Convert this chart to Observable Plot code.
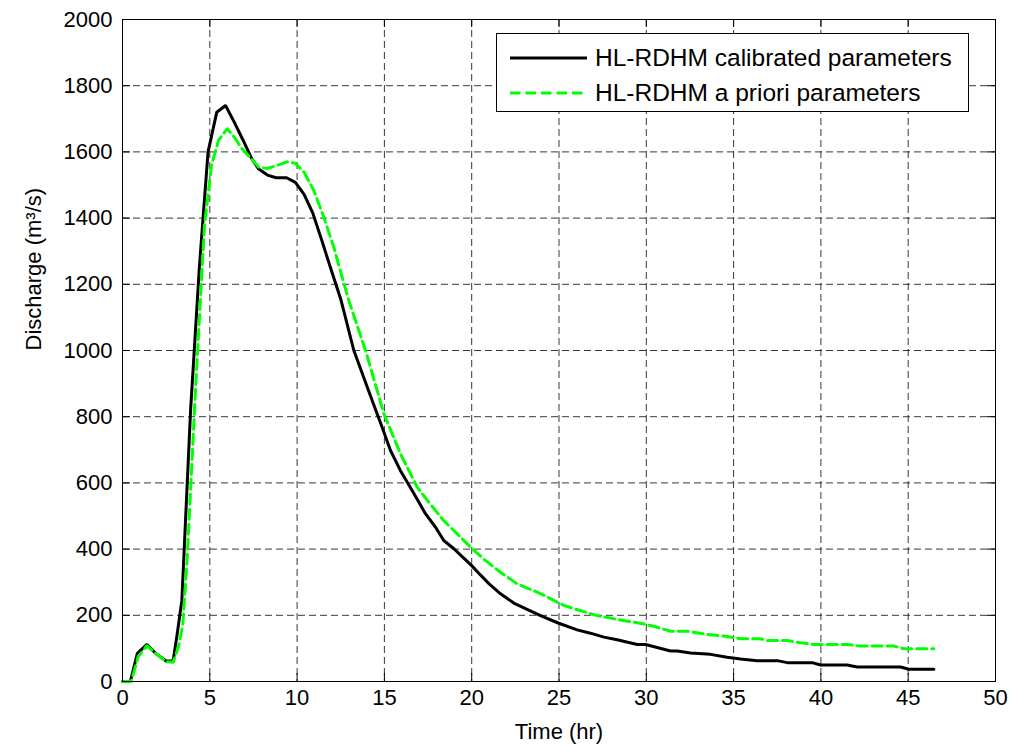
<!DOCTYPE html>
<html>
<head>
<meta charset="utf-8">
<script src="https://cdn.jsdelivr.net/npm/d3@7"></script>
<script src="https://cdn.jsdelivr.net/npm/@observablehq/plot@0.6"></script>
<style>
  html, body { margin: 0; padding: 0; background: #fff; }
  #wrap { position: relative; width: 1014px; height: 754px; font-family: "Liberation Sans", Arial, sans-serif; }
  #legend { position: absolute; left: 496px; top: 33px; width: 473px; height: 79px; border: 1px solid #000; background: #fff; box-sizing: border-box; }
  #legend .row { position: absolute; left: 0; height: 30px; display: flex; align-items: center; font-size: 24.5px; color: #000; white-space: nowrap; }
  #legend svg { margin-left: 13px; margin-right: 8px; }
</style>
</head>
<body>
<div id="wrap"></div>
<script>
// Series: HL-RDHM calibrated parameters (black solid)
const calTime = [0, 0.45, 0.85, 1.4, 1.9, 2.5, 2.9, 3.15, 3.4, 3.9, 4.4, 4.9, 5.4, 5.9, 6.4, 6.9, 7.4, 7.8, 8.3, 8.8, 9.4, 9.9, 10.4, 10.9, 11.4, 11.9, 12.5, 13.25, 14.3, 14.87, 15.35, 15.92, 16.59, 17.35, 17.93, 18.4, 18.98, 19.5, 20, 20.5, 21, 21.65, 22.41, 23.94, 24.99, 26.04, 26.8, 27.57, 28.33, 29.48, 29.96, 31.39, 31.77, 32.53, 33.68, 34.63, 35.4, 36.35, 37.5, 38.07, 39.5, 39.98, 41.5, 42.08, 44.56, 45.04, 46.47];
const calQ = [0, 0, 85, 112, 85, 62, 62, 150, 245, 820, 1250, 1600, 1720, 1740, 1690, 1636, 1580, 1548, 1530, 1522, 1522, 1508, 1472, 1415, 1335, 1252, 1155, 1000, 849, 768, 698, 637, 577, 507, 466, 426, 401, 375, 350, 322, 295, 265, 237, 199, 176, 156, 146, 134, 126, 112, 112, 92, 92, 86, 82, 73, 68, 63, 63, 57, 57, 50, 50, 44, 44, 37, 37];

// Series: HL-RDHM a priori parameters (green dashed)
const aprTime = [0, 0.5, 0.9, 1.4, 1.9, 2.5, 2.9, 3.2, 3.45, 3.7, 4.2, 4.7, 5.1, 5.5, 6.0, 6.4, 6.8, 7.3, 7.8, 8.3, 8.8, 9.4, 9.9, 10.4, 10.96, 11.53, 12.1, 12.96, 13.92, 14.97, 15.92, 16.88, 17.54, 18.4, 19.17, 20.03, 20.8, 21.65, 22.6, 23.75, 25.28, 26.23, 27.19, 28.52, 29.86, 30.62, 31.39, 32.34, 33.49, 34.63, 35.4, 36.54, 36.92, 38.07, 38.83, 39.6, 41.5, 42.27, 44.18, 44.75, 46.47];
const aprQ = [0, 0, 75, 108, 85, 60, 58, 104, 170, 366, 900, 1380, 1560, 1635, 1670, 1645, 1612, 1584, 1554, 1550, 1558, 1570, 1566, 1539, 1483, 1403, 1312, 1151, 1000, 809, 688, 587, 542, 486, 446, 401, 365, 330, 295, 270, 230, 214, 199, 186, 174, 164, 152, 152, 142, 136, 129, 129, 124, 124, 117, 112, 112, 107, 107, 99, 99];

const xTicks = [0, 5, 10, 15, 20, 25, 30, 35, 40, 45, 50];
const yTicks = [0, 200, 400, 600, 800, 1000, 1200, 1400, 1600, 1800, 2000];
const seriesNames = ["HL-RDHM calibrated parameters", "HL-RDHM a priori parameters"];
const xLabel = "Time (hr)";
const yLabel = "Discharge (m³/s)";

const W = 1014, H = 754;
const mL = 122, mR = 19, mT = 19, mB = 73;
const plotW = W - mL - mR, plotH = H - mT - mB;
const tickLen = 8;
const font = "Liberation Sans, Arial, sans-serif";

const chart = Plot.plot({
  width: W, height: H,
  marginLeft: mL, marginRight: mR, marginTop: mT, marginBottom: mB,
  style: { fontFamily: font, fontSize: "22px", color: "#000", background: "#fff" },
  x: { domain: [0, 50], ticks: xTicks },
  y: { domain: [0, 2000], ticks: yTicks },
  marks: [
    Plot.gridX(xTicks, { stroke: "#222", strokeOpacity: 0.9, strokeDasharray: "7,4", strokeWidth: 1 }),
    Plot.gridY(yTicks, { stroke: "#222", strokeOpacity: 0.9, strokeDasharray: "7,4", strokeWidth: 1 }),
    Plot.axisX(xTicks, { tickSize: 0, tickPadding: 8, label: null, fontSize: 22, tickFormat: d => String(d) }),
    Plot.axisY(yTicks, { tickSize: 0, tickPadding: 10, label: null, fontSize: 22, tickFormat: d => String(d) }),
    // inward ticks on all four sides
    Plot.tickX(xTicks, { x: d => d, insetTop: plotH - tickLen, stroke: "#000" }),
    Plot.tickX(xTicks, { x: d => d, insetBottom: plotH - tickLen, stroke: "#000" }),
    Plot.tickY(yTicks, { y: d => d, insetRight: plotW - tickLen, stroke: "#000" }),
    Plot.tickY(yTicks, { y: d => d, insetLeft: plotW - tickLen, stroke: "#000" }),
    Plot.line(calQ, { x: calTime, y: calQ, stroke: "#000", strokeWidth: 3, strokeLinejoin: "miter" }),
    Plot.line(aprQ, { x: aprTime, y: aprQ, stroke: "#00ff00", strokeWidth: 3, strokeDasharray: "10,5" }),
    Plot.frame({ stroke: "#000", strokeWidth: 1 }),
    Plot.text([xLabel], { frameAnchor: "bottom", dy: 57, fontSize: 22, fill: "#000" }),
    Plot.text([yLabel], { frameAnchor: "left", dx: -89, rotate: -90, fontSize: 22, fill: "#000" })
  ]
});

const wrap = document.getElementById("wrap");
wrap.appendChild(chart);

const legend = document.createElement("div");
legend.id = "legend";
const rows = [
  { name: seriesNames[0], stroke: "#000", dash: null, top: 9 },
  { name: seriesNames[1], stroke: "#00ff00", dash: "10.5,5", top: 44 }
];
for (const r of rows) {
  const row = document.createElement("div");
  row.className = "row";
  row.style.top = r.top + "px";
  row.innerHTML = `<svg width="77" height="10"><line x1="0" x2="77" y1="5" y2="5" stroke="${r.stroke}" stroke-width="3" ${r.dash ? `stroke-dasharray="${r.dash}"` : ""}/></svg><span>${r.name}</span>`;
  legend.appendChild(row);
}
wrap.appendChild(legend);
</script>
</body>
</html>
